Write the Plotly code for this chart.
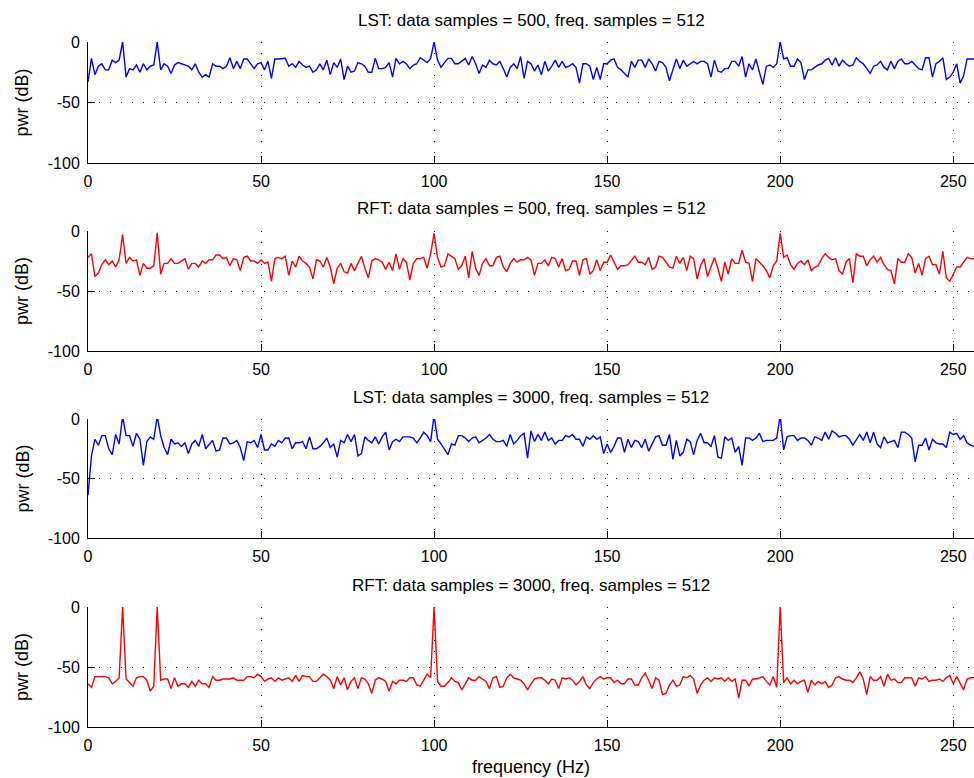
import plotly.graph_objects as go

freq_hz = list(range(0, 257))

lst_500 = [
    -33, -13.5, -27, -20, -18, -23, -23, -15, -17, -15,
    0, -29, -22, -23, -19, -25, -18, -23, -20, -19,
    0, -23, -18, -20, -26, -19, -17, -18, -19, -20,
    -23, -18, -25, -29, -27, -29, -18, -20, -20, -22,
    -20, -13, -22, -16, -22, -14, -14, -18, -22, -18,
    -17, -23, -16, -30, -14, -14, -14, -13.5, -20, -18,
    -21, -16, -19, -21, -20, -25, -23, -18, -23, -15,
    -27, -17, -21, -14, -31, -20, -25, -24, -17, -18,
    -20, -25, -25, -13.5, -22, -22, -21, -17, -29, -13.5,
    -18, -16, -18, -22, -19, -18, -13, -15, -17, -13.5,
    0, -15, -21, -17, -13.5, -13.5, -18, -18, -16, -13.5,
    -19, -12, -18, -26, -19, -21, -15, -18, -19, -16,
    -22, -29, -21, -18, -22, -12, -30, -16, -18, -24,
    -19, -27, -16, -24, -20, -15, -21, -16, -21, -20,
    -18, -21, -34, -18, -18, -20, -31, -21, -31, -18,
    -18, -15, -14, -21, -23, -26, -29, -16, -21, -15,
    -15, -21, -14, -18, -24, -16, -17, -21, -32, -23,
    -14, -22, -15, -20, -18, -16, -18, -16, -16, -18,
    -29, -15, -24, -25, -22, -22, -16, -16, -20, -12,
    -29, -18, -23, -14, -25, -35, -20, -19, -21, -18,
    0, -14, -13, -20, -20, -14, -17, -31, -23, -23,
    -21, -19, -18, -15, -13.5, -19, -13, -20, -15, -18,
    -20, -19, -13, -16, -18, -22, -26, -20, -19, -16,
    -21, -23, -16, -22, -16, -14, -18, -18, -16, -19,
    -22, -23, -13, -13, -29, -18, -16, -13, -31, -29,
    -25, -18, -34, -28, -14, -14, -14,
]

rft_500 = [
    -22, -19, -38, -35, -28, -24, -28, -25, -30, -24,
    -3, -27, -22, -25, -24, -37, -27, -31, -31, -29,
    -1.5, -36, -27, -27, -23, -27, -27, -25, -23, -32,
    -27, -27, -30, -25, -27, -24, -24, -20, -20, -23,
    -22, -29, -23, -24, -33, -22, -21, -25, -25, -27,
    -24, -27, -26, -42, -23, -22, -23, -21, -37, -25,
    -30, -21, -25, -27, -30, -40, -24, -25, -30, -22,
    -30, -44, -31, -27, -34, -35, -27, -33, -27, -21,
    -31, -39, -25, -23, -24, -26, -32, -26, -33, -19,
    -32, -23, -26, -41, -27, -23, -23, -22, -31, -19,
    -2, -22, -30, -29, -19, -21, -23, -32, -29, -21,
    -39, -17, -31, -37, -27, -23, -29, -29, -22, -21,
    -30, -34, -27, -23, -26, -24, -24, -22, -24, -37,
    -27, -27, -24, -29, -22, -23, -30, -23, -33, -32,
    -25, -25, -37, -24, -23, -36, -33, -24, -33, -26,
    -26, -20, -26, -32, -29, -29, -28, -24, -21, -26,
    -26, -28, -22, -32, -30, -21, -22, -26, -30, -31,
    -21, -27, -22, -33, -21, -23, -40, -29, -23, -38,
    -30, -22, -31, -42, -26, -36, -23, -27, -27, -16,
    -26, -27, -42, -23, -26, -29, -33, -39, -29, -25,
    -2, -22, -20, -28, -32, -27, -25, -28, -24, -33,
    -30, -29, -23, -19, -22, -24, -23, -33, -36, -26,
    -23, -43, -19, -21, -21, -29, -24, -21, -26, -22,
    -28, -32, -33, -44, -23, -26, -26, -19, -22, -35,
    -27, -37, -23, -21, -28, -28, -36, -17, -39, -42,
    -36, -30, -30, -26, -22, -23, -23,
]

lst_3000 = [
    -64, -31, -17, -22, -14, -14, -25, -30, -13, -21,
    2, -14, -14, -23, -12, -17, -39, -19, -15, -17,
    2, -14, -24, -30, -17, -21, -20, -23, -20, -29,
    -21, -18, -23, -13, -25, -21, -18, -27, -26, -16,
    -16, -21, -20, -18, -24, -35, -19, -20, -18, -24,
    -13, -26, -26, -21, -23, -18, -20, -16, -16, -25,
    -20, -20, -19, -25, -15, -25, -25, -23, -20, -16,
    -24, -21, -32, -18, -20, -13, -19, -13, -31, -29,
    -15, -18, -20, -15, -21, -15, -11, -26, -19, -17,
    -19, -15, -15, -15, -16, -20, -16, -11, -14, -19,
    3, -17, -21, -25, -30, -21, -22, -14, -14, -16,
    -19, -16, -15, -20, -18, -16, -13, -17, -19, -19,
    -18, -23, -13, -21, -18, -14, -12, -33, -10, -19,
    -13, -18, -11, -18, -16, -21, -18, -18, -14, -15,
    -13, -17, -17, -23, -15, -17, -14, -17, -15, -29,
    -21, -28, -23, -16, -16, -28, -17, -24, -18, -19,
    -24, -17, -27, -21, -15, -14, -22, -22, -13, -34,
    -18, -31, -28, -17, -19, -30, -18, -12, -20, -20,
    -23, -14, -32, -33, -15, -18, -16, -28, -23, -39,
    -16, -16, -18, -16, -12, -19, -18, -18, -18, -16,
    3, -26, -15, -14, -14, -18, -16, -16, -18, -22,
    -15, -16, -18, -11, -17, -10, -12, -15, -14, -14,
    -17, -22, -17, -13, -18, -11, -20, -11, -21, -24,
    -15, -20, -19, -18, -24, -11, -11, -13, -16, -36,
    -22, -22, -16, -26, -17, -20, -21, -21, -24, -11,
    -13, -12, -17, -14, -20, -22, -23,
]

rft_3000 = [
    -64, -67, -58, -58, -58, -58, -59, -64, -62, -59,
    0, -60, -63, -66, -59, -58, -58, -61, -70, -66,
    0, -61, -60, -60, -68, -59, -66, -64, -64, -67,
    -62, -66, -61, -64, -64, -67, -58, -61, -61, -60,
    -60, -60, -59, -61, -61, -61, -58, -58, -59, -56,
    -58, -62, -60, -59, -62, -59, -61, -60, -59, -62,
    -57, -62, -57, -58, -58, -62, -62, -59, -56, -58,
    -61, -68, -58, -65, -59, -69, -62, -59, -68, -59,
    -60, -64, -72, -61, -59, -60, -62, -70, -62, -64,
    -61, -61, -62, -59, -59, -65, -66, -61, -56, -59,
    0, -62, -66, -66, -63, -59, -62, -63, -69, -64,
    -59, -61, -61, -58, -60, -62, -68, -59, -58, -67,
    -66, -59, -56, -59, -60, -61, -64, -69, -64, -60,
    -59, -59, -61, -64, -60, -61, -68, -59, -60, -59,
    -61, -65, -62, -58, -65, -68, -63, -60, -58, -60,
    -59, -59, -63, -61, -64, -64, -60, -60, -65, -65,
    -59, -55, -61, -68, -59, -61, -73, -72, -65, -61,
    -66, -65, -58, -59, -57, -60, -72, -65, -61, -59,
    -62, -59, -60, -59, -62, -59, -62, -60, -76, -61,
    -61, -66, -60, -60, -59, -58, -62, -65, -58, -67,
    0, -63, -59, -64, -61, -64, -62, -61, -71, -61,
    -65, -62, -64, -62, -67, -65, -59, -58, -60, -61,
    -61, -63, -59, -54, -60, -73, -58, -61, -61, -58,
    -66, -56, -61, -60, -63, -63, -59, -59, -59, -66,
    -59, -60, -58, -62, -61, -61, -60, -62, -59, -57,
    -64, -58, -64, -69, -60, -59, -59,
]

titles = [
    "LST: data samples = 500, freq. samples = 512",
    "RFT: data samples = 500, freq. samples = 512",
    "LST: data samples = 3000, freq. samples = 512",
    "RFT: data samples = 3000, freq. samples = 512",
]
series = [lst_500, rft_500, lst_3000, rft_3000]
colors = ["#0000ff", "#ff0000", "#0000ff", "#ff0000"]

x_ticks = [0, 50, 100, 150, 200, 250]
x_tick_labels = ["0", "50", "100", "150", "200", "250"]
y_ticks = [0, -50, -100]
y_tick_labels = ["0", "-50", "-100"]

W, H = 974, 778
# pixel extents (top, bottom) of each panel
panel_px = [(42, 163), (231, 351), (419, 538), (607, 727)]
x_left = 88

FONT = "Liberation Sans, Arial, Helvetica, sans-serif"

fig = go.Figure()
annotations = []
for i, (ys, col) in enumerate(zip(series, colors)):
    n = "" if i == 0 else str(i + 1)
    fig.add_trace(go.Scatter(
        x=freq_hz, y=ys, mode="lines",
        line=dict(color=col, width=1.4),
        xaxis="x" + n, yaxis="y" + n, showlegend=False,
        hoverinfo="x+y", cliponaxis=True,
    ))
    top, bot = panel_px[i]
    common = dict(
        showline=True, linecolor="black", linewidth=1,
        ticks="inside", ticklen=7, tickcolor="black", tickwidth=1,
        showgrid=True, gridcolor="#222222", gridwidth=1, griddash="1px,10px",
        zeroline=False, mirror=False, automargin=False,
        tickfont=dict(family=FONT, size=16, color="black"),
    )
    fig.update_layout(**{
        "xaxis" + n: dict(
            domain=[x_left / W, 1.0], range=[0, 256],
            tickvals=x_ticks, ticktext=x_tick_labels,
            anchor="y" + n, ticklabelstandoff=4, **common,
        ),
        "yaxis" + n: dict(
            domain=[1 - bot / H, 1 - top / H], range=[-100, 0],
            tickvals=y_ticks, ticktext=y_tick_labels,
            anchor="x" + n, ticklabelstandoff=4, **common,
        ),
    })
    annotations.append(dict(
        text=titles[i], xref="paper", yref="paper",
        x=(x_left + W) / 2 / W, y=1 - (top - 22) / H,
        xanchor="center", yanchor="middle", showarrow=False,
        font=dict(family=FONT, size=17, color="black"),
    ))
    annotations.append(dict(
        text="pwr (dB)", xref="paper", yref="paper",
        x=22 / W, y=1 - (top + bot) / 2 / H, textangle=-90,
        xanchor="center", yanchor="middle", showarrow=False,
        font=dict(family=FONT, size=18, color="black"),
    ))

annotations.append(dict(
    text="frequency (Hz)", xref="paper", yref="paper",
    x=(x_left + W) / 2 / W, y=1 - 767 / H,
    xanchor="center", yanchor="middle", showarrow=False,
    font=dict(family=FONT, size=18, color="black"),
))

fig.update_layout(
    width=W, height=H,
    margin=dict(l=0, r=0, t=0, b=0, pad=0, autoexpand=False),
    paper_bgcolor="white", plot_bgcolor="white",
    annotations=annotations, showlegend=False,
    font=dict(family=FONT, color="black"),
)

fig.write_html(
    "out.html",
    config={"displayModeBar": False},
    post_script="document.body.style.margin='0';document.body.style.padding='0';"
                "document.documentElement.style.overflow='hidden';",
)
